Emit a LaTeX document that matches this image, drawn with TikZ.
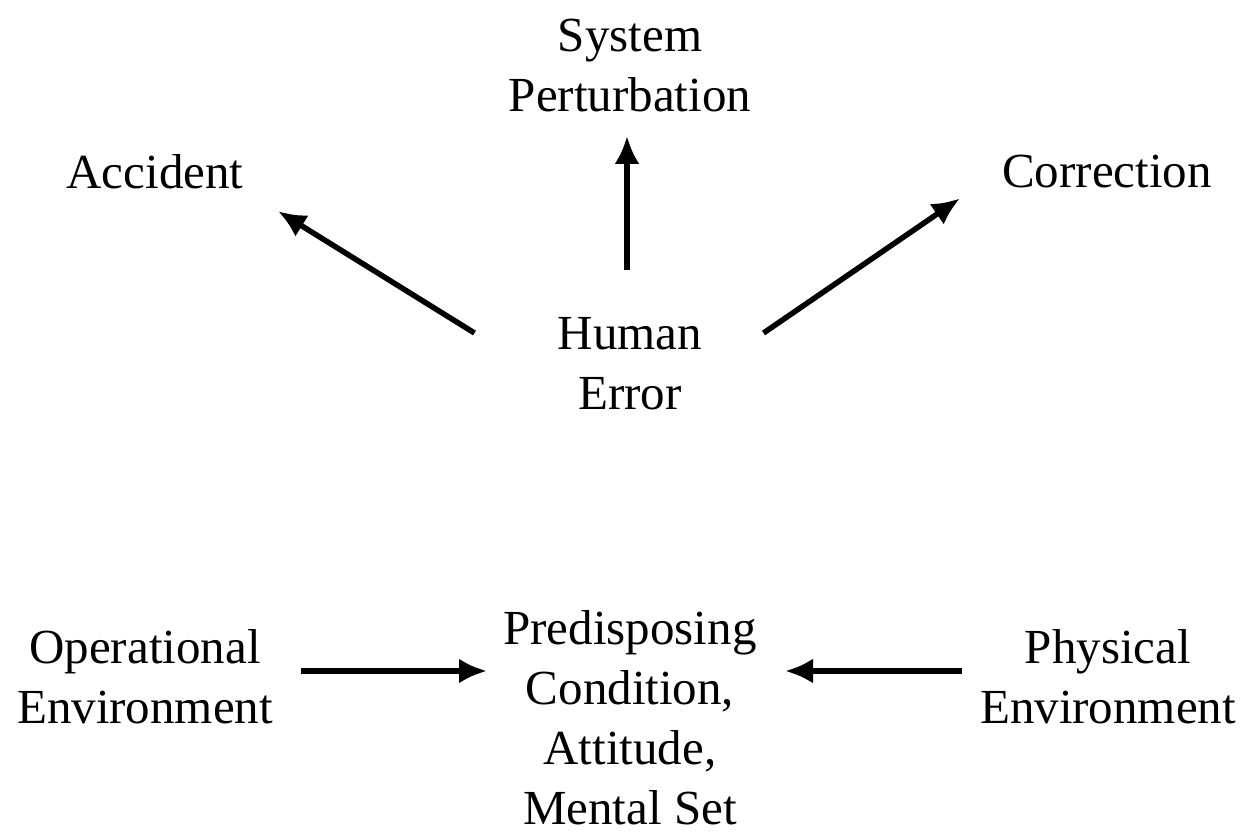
\documentclass[tikz,border=0pt]{standalone}
\usepackage{fontspec}
\setmainfont{Liberation Serif}
\usetikzlibrary{arrows.meta}
\tikzset{x=0.5pt, y=-0.5pt,
  lbl/.style={align=center, inner sep=0pt, font=\fontsize{24.5}{30}\selectfont},
  arr/.style={-{Latex[length=14pt,width=12.5pt]}, line width=2.75pt}}

\begin{document}
\begin{tikzpicture}
  \useasboundingbox (0,0) rectangle (1247,834);
  \node[lbl] (HE) at (630,363.5) {Human\\Error};
  \node[lbl] (SP) at (630,66) {System\\Perturbation};
  \node[lbl] (Acc) at (155,171.5) {Accident};
  \node[lbl] (Cor) at (1107,171.5) {Correction};
  \node[lbl] (OE) at (145,676.5) {Operational\\Environment};
  \node[lbl] (PC) at (630,718) {Predisposing\\Condition,\\Attitude,\\Mental Set};
  \node[lbl] (PE) at (1108,676.5) {Physical\\Environment};

  \draw[arr] ([shift={(-83,-30.5)}]HE.west) -- ([shift={(123,22)}]Acc.south);
  \draw[arr] ([shift={(-3,-47)}]HE.north) -- ([shift={(-3,23)}]SP.south);
  \draw[arr] ([shift={(61,-30.5)}]HE.east) -- ([shift={(-147,10)}]Cor.south);
  \draw[arr] ([shift={(28,-5.5)}]OE.east) -- ([shift={(-16,-47)}]PC.west);
  \draw[arr] ([shift={(-18,-5.5)}]PE.west) -- ([shift={(28,-47)}]PC.east);
\end{tikzpicture}
\end{document}
